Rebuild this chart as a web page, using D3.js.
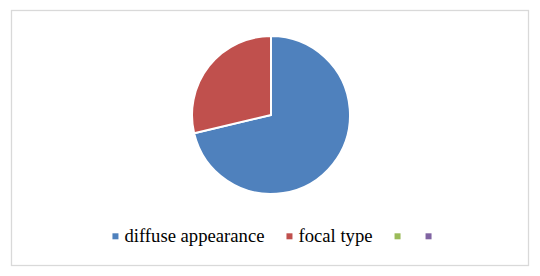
<!DOCTYPE html>
<html>
<head>
<meta charset="utf-8">
<script src="https://cdn.jsdelivr.net/npm/d3@7"></script>
<style>
  body { margin: 0; background: #fff; }
  svg { display: block; }
</style>
</head>
<body>
<svg class="pieChart"></svg>
<script>
var categories = ["diffuse appearance", "focal type", "", ""];
var values = [71.3, 28.7, 0, 0];
var colorList = ["#4f81bd", "#c0504d", "#9bbb59", "#8064a2"];

var drawPie = function()
{
  var screen = { //the size of svg
    width: 540,
    height: 276
  }

  var center = { x: 271, y: 115 };
  var radius = 79;

  var svg = d3.select(".pieChart")
              .attr("width", screen.width)
              .attr("height", screen.height);

  //outer frame
  svg.append("rect")
     .attr("x", 11.5)
     .attr("y", 10.5)
     .attr("width", 517)
     .attr("height", 255)
     .attr("fill", "#fff")
     .attr("stroke", "#d9d9d9")
     .attr("stroke-width", 1.3);

  var colors = d3.scaleOrdinal()
                 .domain(d3.range(categories.length))
                 .range(colorList);

  var pie = d3.pie()
              .sort(null)
              .value(function(d) {return d;});

  var arc = d3.arc()
              .innerRadius(0)
              .outerRadius(radius);

  svg.append("g")
     .attr("transform", "translate(" + center.x + "," + center.y + ")")
     .selectAll("path")
     .data(pie(values).filter(function(d) {return d.value > 0;}))
     .enter()
     .append("path")
     .attr("d", arc)
     .attr("fill", function(d) {return colors(d.index);})
     .attr("stroke", "#fff")
     .attr("stroke-width", 2)
     .attr("stroke-linejoin", "round");

  //legend
  var legend = svg.append("g").classed("legend", true);
  var sq = 6, pad = 6, gap = 22, emptyGap = 25, baseline = 241.5;

  var items = legend.selectAll("g")
                    .data(categories)
                    .enter()
                    .append("g");

  items.append("rect")
       .attr("y", 233.3)
       .attr("width", sq)
       .attr("height", sq)
       .attr("fill", function(d, i) {return colors(i);});

  items.append("text")
       .attr("x", sq + pad)
       .attr("y", baseline)
       .style("font-family", "'Liberation Serif', 'Times New Roman', serif")
       .style("font-size", "18.67px")
       .attr("fill", "#000")
       .text(function(d) {return d;});

  var offsets = [];
  var x = 0;
  items.each(function(d, i) {
    var w = d3.select(this).select("text").node().getComputedTextLength();
    offsets.push(x);
    x += (d ? sq + pad + w + gap : sq + emptyGap);
  });
  var total = offsets[offsets.length - 1] + sq;
  var start = 272 - total / 2;
  items.attr("transform", function(d, i) {return "translate(" + (start + offsets[i]) + ",0)";});
}

drawPie();
</script>
</body>
</html>
